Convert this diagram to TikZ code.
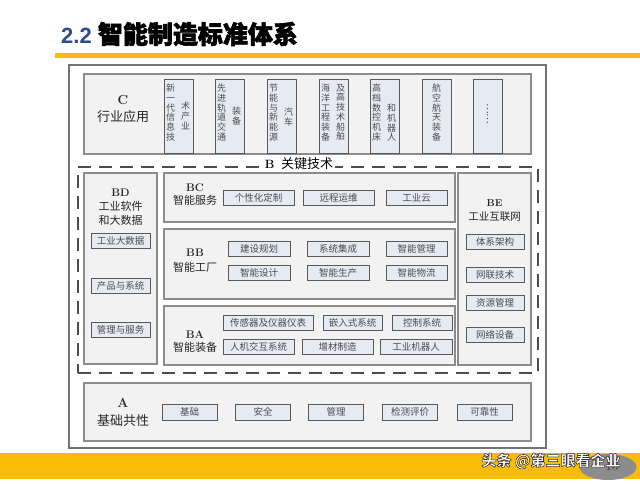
\documentclass[tikz,border=0pt]{standalone}
\usepackage{fontspec}
\usetikzlibrary{shapes.geometric}
\newfontfamily\cjk{Noto Sans CJK SC}
\newfontfamily\latsans{Liberation Sans}
\definecolor{titleblue}{HTML}{2C4A8E}
\definecolor{band}{HTML}{FBBC05}
\definecolor{boxfill}{HTML}{F2F2F2}
\definecolor{itemfill}{HTML}{E6EAF3}
\definecolor{framec}{HTML}{8C8C8C}
\newcommand{\outlinedtext}[1]{\special{pdf:literal direct 0.2 0.2 0.2 RG 0.55 w 2 Tr}#1\special{pdf:literal direct 0 Tr}}
\begin{document}
\begin{tikzpicture}[x=1pt,y=-1pt,
  container/.style={draw=framec, fill=boxfill, line width=1.3pt, inner sep=0},
  itembox/.style={draw=black!65, fill=itemfill, line width=0.8pt, inner sep=0,
    font=\cjk\fontsize{9.5}{11}\selectfont, text=black!70, minimum height=15pt},
  vbox/.style={draw=black!65, fill=itemfill, line width=0.8pt, inner sep=0,
    minimum width=29pt, minimum height=74pt},
  vtext/.style={anchor=north, inner sep=0, align=center,
    font=\cjk\fontsize{9}{9.7}\selectfont, text=black!70},
  lab/.style={inner sep=0, font=\fontsize{11}{12}\selectfont\bfseries, text=black!85},
  labcn/.style={inner sep=0, font=\cjk\fontsize{11}{12}\selectfont, text=black!85},
  bdash/.style={draw=black!70, line width=1.4pt, dash pattern=on 13pt off 8pt, inner sep=0}
]
\useasboundingbox (0,0) rectangle (640,483);
\fill[white] (0,0) rectangle (640,483);

% title
\node[anchor=west, inner sep=0] (title) at (61,34)
  {\latsans\bfseries\fontsize{22}{24}\selectfont\color{titleblue}2.2\ \cjk\bfseries\fontsize{25}{26}\selectfont\color{black}\special{pdf:literal direct 0 0 0 RG 0.6 w 2 Tr}智能制造标准体系\special{pdf:literal direct 0 Tr}};
\draw[band, line width=5pt] (55,55.5) -- (640,55.5);
\fill[band] (0,453) rectangle (640,479);

% outer frame
\node[draw=black!55, line width=1.3pt, fill=white, minimum width=477pt, minimum height=383pt, inner sep=0] (frame) at (307.5,256.5) {};

% C row
\node[container, minimum width=447pt, minimum height=80pt] (C) at (307.5,114) {};
\node[lab, font=\fontsize{13}{14}\selectfont\bfseries] (Cl) at (123,100) {C};
\node[labcn, font=\cjk\fontsize{13}{14}\selectfont] (Cn) at (123,117) {行业应用};

\node[vbox] (v1) at (178.5,116) {};
\node[vbox] (v2) at (230,116) {};
\node[vbox] (v3) at (281.5,116) {};
\node[vbox] (v4) at (334,116) {};
\node[vbox] (v5) at (384.5,116) {};
\node[vbox] (v6) at (436.5,116) {};
\node[vbox] (v7) at (487.5,116) {};

\node[vtext] (v1a) at (170.5,84) {新\\一\\代\\信\\息\\技};
\node[vtext] (v1b) at (185.5,102) {术\\产\\业};
\node[vtext] (v2a) at (221.5,84) {先\\进\\轨\\道\\交\\通};
\node[vtext] (v2b) at (236.5,107) {装\\备};
\node[vtext] (v3a) at (273.5,84) {节\\能\\与\\新\\能\\源};
\node[vtext] (v3b) at (288.5,108) {汽\\车};
\node[vtext] (v4a) at (325.5,84) {海\\洋\\工\\程\\装\\备};
\node[vtext] (v4b) at (340.5,84) {及\\高\\技\\术\\船\\舶};
\node[vtext] (v5a) at (376.5,84) {高\\档\\数\\控\\机\\床};
\node[vtext] (v5b) at (391.5,104) {和\\机\\器\\人};
\node[vtext] (v6a) at (436.5,84) {航\\空\\航\\天\\装\\备};
\node[inner sep=0, rotate=90, font=\cjk\fontsize{10}{10}\selectfont, text=black!70] (v7a) at (487.5,114) {……};

% B dashed
\node[bdash, minimum width=460pt, minimum height=206pt] (B) at (308,270) {};
\node[fill=white, inner sep=2pt] (Bl) at (299,164)
  {{\fontsize{12}{12}\selectfont\bfseries B}\ \ {\cjk\fontsize{13}{13}\selectfont 关键技术}};

% BD
\node[container, minimum width=73pt, minimum height=191pt] (BD) at (120.5,268.5) {};
\node[lab] (BDl) at (120.5,193) {BD};
\node[labcn] (BDn1) at (120.5,206.5) {工业软件};
\node[labcn] (BDn2) at (120.5,220) {和大数据};
\node[itembox, minimum width=59pt] (bd1) at (120.5,241) {工业大数据};
\node[itembox, minimum width=59pt] (bd2) at (120.5,285.5) {产品与系统};
\node[itembox, minimum width=59pt] (bd3) at (120.5,329.5) {管理与服务};

% BC
\node[container, minimum width=291pt, minimum height=49pt] (BC) at (309.5,197.5) {};
\node[lab] (BCl) at (195,187.5) {BC};
\node[labcn] (BCn) at (195,200) {智能服务};
\node[itembox, minimum width=71pt] (bc1) at (258.5,198) {个性化定制};
\node[itembox, minimum width=71pt] (bc2) at (338.5,198) {远程运维};
\node[itembox, minimum width=61pt] (bc3) at (416.5,198) {工业云};

% BB
\node[container, minimum width=291pt, minimum height=70pt] (BB) at (309.5,264) {};
\node[lab] (BBl) at (195,253) {BB};
\node[labcn] (BBn) at (195,267) {智能工厂};
\node[itembox, minimum width=62pt] (bb1) at (259,248.5) {建设规划};
\node[itembox, minimum width=62pt] (bb2) at (338,248.5) {系统集成};
\node[itembox, minimum width=61pt] (bb3) at (416.5,248.5) {智能管理};
\node[itembox, minimum width=62pt] (bb4) at (259,272.5) {智能设计};
\node[itembox, minimum width=62pt] (bb5) at (338,272.5) {智能生产};
\node[itembox, minimum width=61pt] (bb6) at (416.5,272.5) {智能物流};

% BA
\node[container, minimum width=291pt, minimum height=59pt] (BA) at (309.5,335.5) {};
\node[lab] (BAl) at (195,335) {BA};
\node[labcn] (BAn) at (195,347.5) {智能装备};
\node[itembox, minimum width=90pt] (ba1) at (268,322.5) {传感器及仪器仪表};
\node[itembox, minimum width=59pt] (ba2) at (352.5,322.5) {嵌入式系统};
\node[itembox, minimum width=60pt] (ba3) at (422,322.5) {控制系统};
\node[itembox, minimum width=71pt] (ba4) at (258.5,346.5) {人机交互系统};
\node[itembox, minimum width=71pt] (ba5) at (337.5,346.5) {增材制造};
\node[itembox, minimum width=72pt] (ba6) at (416,346.5) {工业机器人};

% BE
\node[container, minimum width=73pt, minimum height=192pt] (BE) at (494.5,269) {};
\node[lab, font=\fontsize{10}{11}\selectfont\bfseries] (BEl) at (494.5,203) {BE};
\node[labcn, font=\cjk\fontsize{10.5}{11}\selectfont] (BEn) at (494.5,217) {工业互联网};
\node[itembox, minimum width=58pt] (be1) at (495,241.5) {体系架构};
\node[itembox, minimum width=58pt] (be2) at (495,274.5) {网联技术};
\node[itembox, minimum width=58pt] (be3) at (495,302.5) {资源管理};
\node[itembox, minimum width=58pt] (be4) at (495,334.5) {网络设备};

% A
\node[container, minimum width=447pt, minimum height=58pt] (A) at (307.5,412) {};
\node[lab, font=\fontsize{13}{14}\selectfont\bfseries] (Al) at (123,403) {A};
\node[labcn, font=\cjk\fontsize{13}{14}\selectfont] (An) at (123,421) {基础共性};
\node[itembox, minimum width=55pt, minimum height=16pt] (a1) at (189.5,412) {基础};
\node[itembox, minimum width=55pt, minimum height=16pt] (a2) at (263,412) {安全};
\node[itembox, minimum width=55pt, minimum height=16pt] (a3) at (336,412) {管理};
\node[itembox, minimum width=55pt, minimum height=16pt] (a4) at (410,412) {检测评价};
\node[itembox, minimum width=55pt, minimum height=16pt] (a5) at (484.5,412) {可靠性};

% page number and watermark
\node[ellipse, fill=black!45, minimum width=57pt, minimum height=26pt, inner sep=0] (pg) at (608,467) {};
\node[inner sep=0, font=\fontsize{13}{13}\selectfont, text=black!80] (pgn) at (612,466) {10};
\node[inner sep=0, font=\cjk\bfseries\fontsize{15}{15}\selectfont, text=white] (wm) at (551,461) {\outlinedtext{头条 @第三眼看企业}};
\end{tikzpicture}
\end{document}
